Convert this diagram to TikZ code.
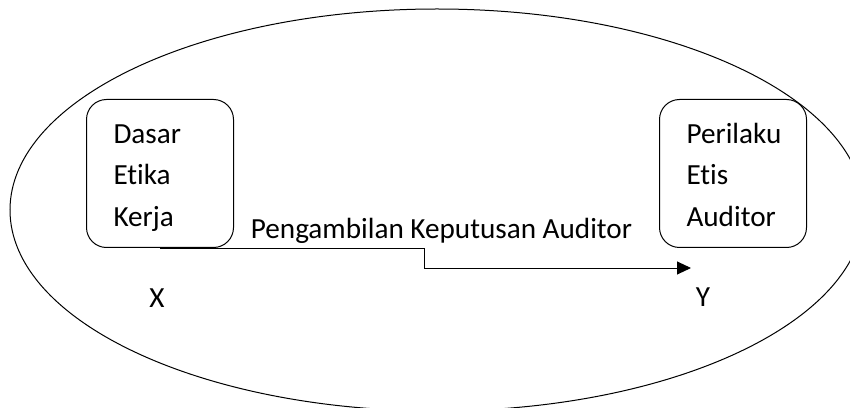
\documentclass[tikz,border=0pt]{standalone}
\usepackage{fontspec}
\setmainfont{Carlito}[Ligatures=NoCommon]
\usepackage{tikz}
\usetikzlibrary{positioning}
\usetikzlibrary{arrows,arrows.meta,shapes}
\tikzstyle{varbox}=[draw,line width=1pt,rounded corners=20pt,anchor=north west,text width=93pt,inner xsep=27pt,inner ysep=0pt,text height=44pt,text depth=104pt,align=left,font=\fontsize{29.2}{41.5}\selectfont]
\tikzstyle{varname}=[font=\fontsize{29.2}{35}\selectfont]
\tikzstyle{flow}=[-{Triangle[length=14pt,width=13pt]},line width=0.9pt]

\begin{document}
\begin{tikzpicture}[x=1pt,y=1pt]
\useasboundingbox (0,0) rectangle (850,407);

%scope
\draw[line width=1pt] (437,197) ellipse [x radius=427, y radius=201];

%variables
\node[varbox] (dasar) at (86,308) {Dasar\\Etika\\Kerja};
\node[varbox] (perilaku) at (659,308) {Perilaku\\Etis\\Auditor};

\foreach \pos/\name/\txt in {{(157,109)/x/X}, {(703,110)/y/Y}}
    \node[varname] (\name) at \pos {\txt};

%relation
\coordinate (bend) at (424,139);
\coordinate (tip) at (691,139);
\draw[flow] (dasar.south) -| (bend) -- (tip);
\node[varname,anchor=base] (keputusan) at (441.5,168.5) {Pengambilan Keputusan Auditor};

\end{tikzpicture}
\end{document}
